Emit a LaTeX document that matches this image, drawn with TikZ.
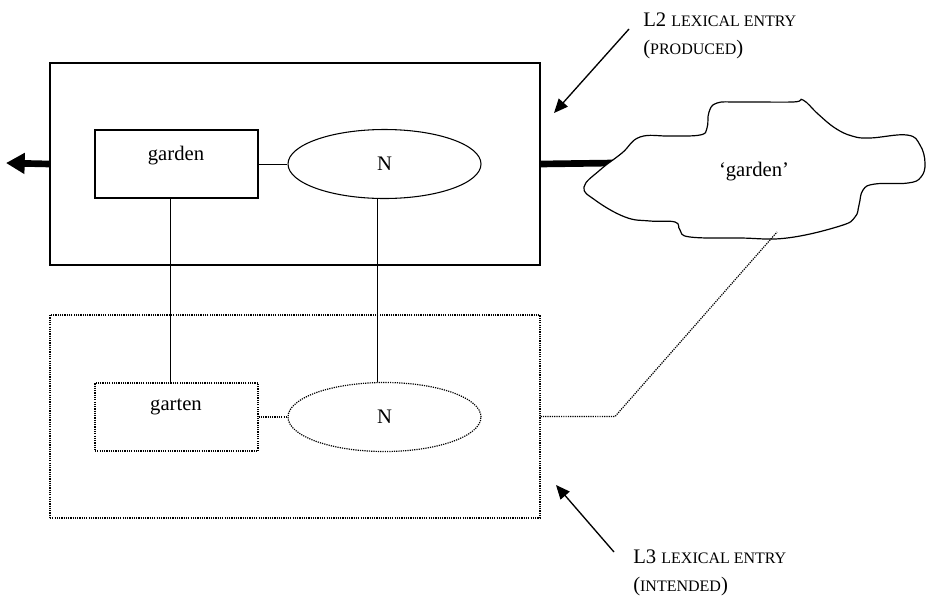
\documentclass[tikz,border=0pt]{standalone}
\usepackage{fontspec}
\setmainfont{Liberation Serif}
\usetikzlibrary{arrows.meta,shapes.geometric}
% small capitals imitated with reduced upper-case letters
\newcommand\fakesc[1]{{\fontsize{12pt}{20.5pt}\selectfont #1}}

\begin{document}
\begin{tikzpicture}[x=0.75pt,y=-0.75pt,
  every node/.style={font=\fontsize{15.5pt}{20.5pt}\selectfont, inner sep=0pt},
  frame/.style={draw, line width=0.8pt},
  dots/.style={draw, line width=0.9pt, dash pattern=on 0.9pt off 0.8pt},
  wordbox/.style={rectangle, minimum width=122.25pt, minimum height=51pt},
  catoval/.style={ellipse, minimum width=144.75pt, minimum height=51.75pt},
  entry/.style={rectangle, minimum width=367.5pt, minimum height=151.5pt},
  link/.style={line width=0.75pt},
  heavy/.style={line width=5pt},
  pointer/.style={line width=1pt, -{Triangle[length=10.5pt,width=9pt]}},
  caption/.style={align=left, anchor=north west}
]
\useasboundingbox (0,0) rectangle (927,597);

% helper points
\coordinate (vx) at (170,0);
\coordinate (vy) at (377,0);
\coordinate (cloudin) at (613,163);
\coordinate (cloudfoot) at (777,232);
\coordinate (bend) at (615,416.5);
\coordinate (tipL) at (6,163);
\coordinate (l2tail) at (629,29);
\coordinate (l2tip) at (554,113);
\coordinate (l3tail) at (614,552);
\coordinate (l3tip) at (556,485);

% produced L2 entry
\node[entry, frame] (prod) at (295,164) {};
\node[wordbox, frame] (gbox) at (176.5,164) {};
\node (gword) at (176,156) {garden};
\node[catoval, frame] (gcat) at (384.5,164) {N};

% intended L3 entry
\node[entry, dots, minimum height=152.25pt] (intd) at (295,416.5) {};
\node[wordbox, dots] (tbox) at (176.5,417) {};
\node (tword) at (176,407) {garten};
\node[catoval, dots] (tcat) at (384.5,417) {N};

% connectors inside and between the entries
\draw[link] (gbox) -- (gcat);
\draw[dots] (tbox) -- (tcat);
\draw[link] (gbox.south -| vx) -- (tbox.north -| vx);
\draw[link] (gcat.south -| vy) -- (tcat.north -| vy);

% heavy output lines
\draw[heavy, -{Triangle[length=14pt,width=15pt]}] (prod.west) -- (tipL);
\draw[heavy] (prod.east) -- (cloudin);

% meaning cloud
\draw[line width=0.9pt, fill=white] plot[smooth cycle, tension=0.7] coordinates {
  (584,187) (600,170) (622,153) (640,137) (670,136) (700,135) (707,128)
  (709,112) (717,103) (740,102) (793,102) (803,100) (818,114) (835,128)
  (852,136) (870,138) (907,135) (920,145) (925,163) (921,177) (908,183)
  (875,184) (863,190) (859,205) (855,217) (840,226) (787,238) (740,238)
  (690,237) (680,230) (675,222) (650,221) (625,217) (595,200)};
\node (meaning) at (754,172) {‘garden’};

\draw[dots] (intd.east) -- (bend) -- (cloudfoot);

% captions
\node[caption] (l2cap) at (643,13) {L2 \fakesc{LEXICAL ENTRY}\\(\fakesc{PRODUCED})};
\draw[pointer] (l2tail) -- (l2tip);
\node[caption] (l3cap) at (633,550) {L3 \fakesc{LEXICAL ENTRY}\\(\fakesc{INTENDED})};
\draw[pointer] (l3tail) -- (l3tip);
\end{tikzpicture}
\end{document}
